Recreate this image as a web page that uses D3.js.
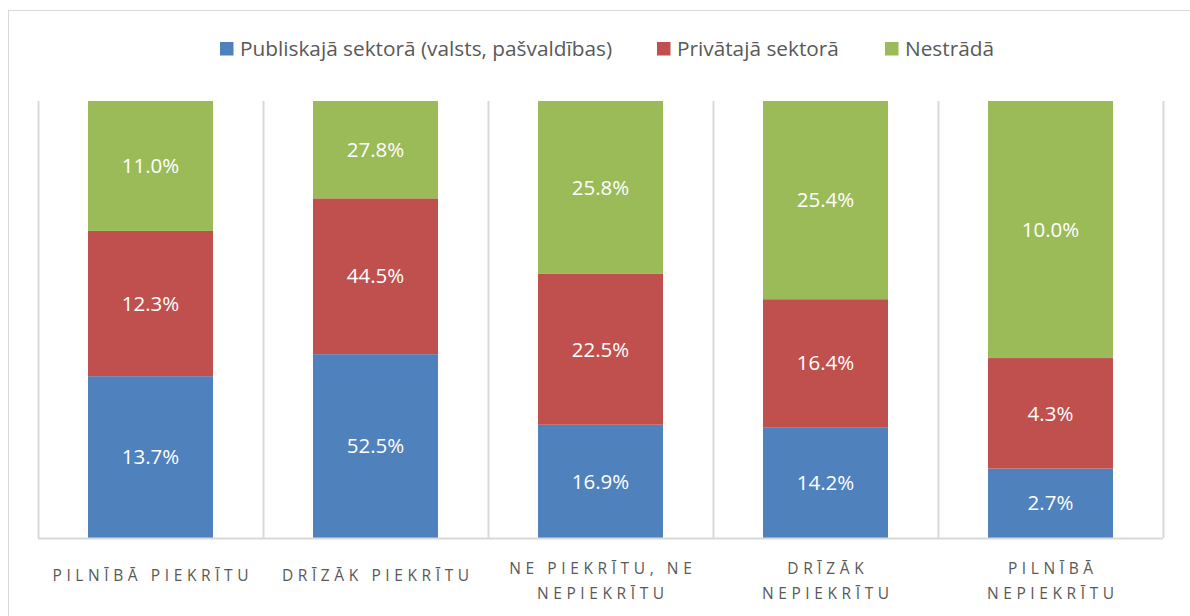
<!DOCTYPE html>
<html>
<head>
<meta charset="utf-8">
<script src="https://cdn.jsdelivr.net/npm/d3@7"></script>
<style>
  body { margin: 0; background: #fff; }
  text { font-family: "Open Sans", sans-serif; }
</style>
</head>
<body>
<div id="chart"></div>
<script>
// chart data (values are shown as labels, columns are stacked to 100%)
var categories = [
  ["PILNĪBĀ PIEKRĪTU"],
  ["DRĪZĀK PIEKRĪTU"],
  ["NE PIEKRĪTU, NE", "NEPIEKRĪTU"],
  ["DRĪZĀK", "NEPIEKRĪTU"],
  ["PILNĪBĀ", "NEPIEKRĪTU"]
];
var seriesNames = ["Publiskajā sektorā (valsts, pašvaldības)", "Privātajā sektorā", "Nestrādā"];
var publicValues = [13.7, 52.5, 16.9, 14.2, 2.7];
var privateValues = [12.3, 44.5, 22.5, 16.4, 4.3];
var notWorkingValues = [11.0, 27.8, 25.8, 25.4, 10.0];
var colors = ["#4F81BD", "#C0504D", "#9BBB59"];

var svgWidth = 1190;
var svgHeight = 616;
var margin = {top: 101, right: 27, bottom: 78, left: 38};
var chartWidth = svgWidth - margin.left - margin.right;
var chartHeight = svgHeight - margin.top - margin.bottom;

var svg = d3.select("#chart")
  .append("svg")
  .attr("width", svgWidth)
  .attr("height", svgHeight);

// chart frame
svg.append("rect")
  .attr("x", 8.5).attr("y", 10.5)
  .attr("width", svgWidth).attr("height", svgHeight)
  .attr("fill", "none")
  .attr("stroke", "#D9D9D9");

var chartGroup = svg.append("g")
  .attr("transform", `translate(${margin.left}, ${margin.top})`);

// build rows, normalised per column
var allSeries = [publicValues, privateValues, notWorkingValues];
var rows = categories.map(function(c, i) {
  var total = publicValues[i] + privateValues[i] + notWorkingValues[i];
  var row = {idx: i};
  allSeries.forEach(function(s, k) {
    row["s" + k] = s[i] / total;
    row["v" + k] = s[i];
  });
  return row;
});
var stacked = d3.stack().keys(["s0", "s1", "s2"])(rows);

var xBand = d3.scaleBand()
  .domain(d3.range(categories.length))
  .range([0, chartWidth])
  .paddingInner(0.8 / 1.8)
  .paddingOuter(0.4 / 1.8);

var yScale = d3.scaleLinear()
  .domain([0, 1])
  .range([chartHeight, 0]);

// vertical gridlines between categories
var step = xBand.step();
var gridX = d3.range(categories.length + 1).map(i => i * step);
chartGroup.selectAll(".grid")
  .data(gridX)
  .enter().append("line")
  .attr("x1", d => Math.round(d) + 0.5)
  .attr("x2", d => Math.round(d) + 0.5)
  .attr("y1", 0)
  .attr("y2", chartHeight)
  .attr("stroke", "#D9D9D9")
  .attr("stroke-width", 2);

// bars
var layers = chartGroup.selectAll(".layer")
  .data(stacked)
  .enter().append("g")
  .attr("fill", (d, i) => colors[i]);

layers.selectAll("rect")
  .data(d => d)
  .enter().append("rect")
  .attr("x", d => xBand(d.data.idx))
  .attr("width", xBand.bandwidth())
  .attr("y", d => yScale(d[1]))
  .attr("height", d => yScale(d[0]) - yScale(d[1]));

// value labels
stacked.forEach(function(layer, k) {
  chartGroup.selectAll(".lbl" + k)
    .data(layer)
    .enter().append("text")
    .attr("x", d => xBand(d.data.idx) + xBand.bandwidth() / 2)
    .attr("y", d => (yScale(d[0]) + yScale(d[1])) / 2)
    .attr("dy", "0.35em")
    .attr("text-anchor", "middle")
    .attr("fill", "#fff")
    .attr("font-size", "20.5px")
    .text(d => d.data["v" + k].toFixed(1) + "%");
});

// x axis line
chartGroup.append("line")
  .attr("x1", 0).attr("x2", chartWidth)
  .attr("y1", chartHeight + 0.5).attr("y2", chartHeight + 0.5)
  .attr("stroke", "#D9D9D9")
  .attr("stroke-width", 2);

// category labels (letter spaced, may wrap onto two lines)
var catLabels = chartGroup.selectAll(".cat")
  .data(categories)
  .enter().append("text")
  .attr("text-anchor", "middle")
  .attr("fill", "#595959")
  .attr("font-size", "15.5px")
  .attr("letter-spacing", "4.6px")
  .attr("transform", (d, i) => `translate(${xBand(i) + xBand.bandwidth() / 2 + 2.3}, 0)`);

catLabels.each(function(lines) {
  var t = d3.select(this);
  var firstY = lines.length == 1 ? chartHeight + 43 : chartHeight + 36;
  lines.forEach(function(line, j) {
    t.append("tspan")
      .attr("x", 0)
      .attr("y", firstY + j * 24.5)
      .text(line);
  });
});

// legend
var legendX = [220, 657, 885];
var legend = svg.selectAll(".legend")
  .data(seriesNames)
  .enter().append("g")
  .attr("transform", (d, i) => `translate(${legendX[i]}, 42)`);

legend.append("rect")
  .attr("width", 13.5).attr("height", 13.5)
  .attr("fill", (d, i) => colors[i]);

legend.append("text")
  .attr("x", 20)
  .attr("y", 14)
  .attr("fill", "#595959")
  .attr("font-size", "20.8px")
  .text(d => d);
</script>
</body>
</html>
